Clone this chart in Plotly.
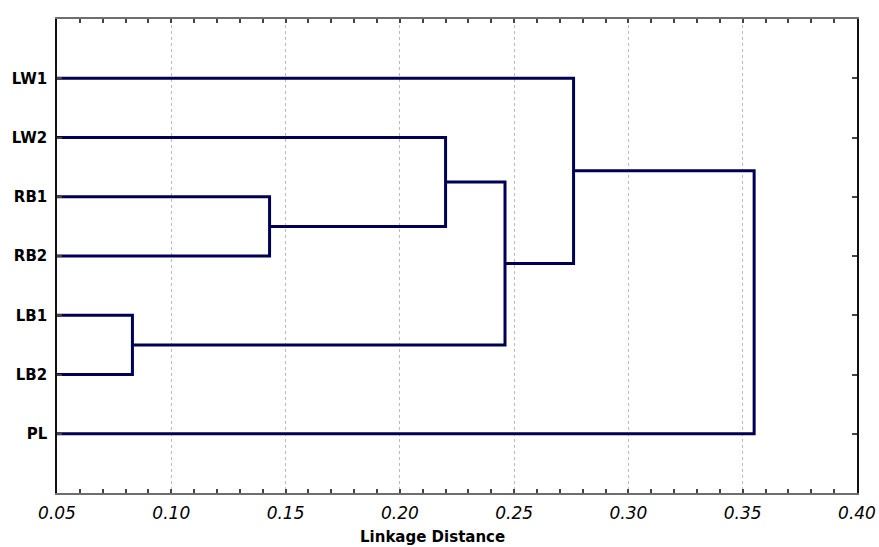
import plotly.graph_objects as go

# Leaves (top to bottom) and linkage merges
leaves = ["LW1", "LW2", "RB1", "RB2", "LB1", "LB2", "PL"]
merge_left = ["LB1", "RB1", "LW2", "N3", "LW1", "N5"]
merge_right = ["LB2", "RB2", "N2", "N1", "N4", "PL"]
merge_names = ["N1", "N2", "N3", "N4", "N5", "N6"]
merge_dist = [0.083, 0.143, 0.220, 0.246, 0.276, 0.355]
x_ticks = [0.05, 0.10, 0.15, 0.20, 0.25, 0.30, 0.35, 0.40]

pos = {name: (0.0, i) for i, name in enumerate(leaves)}
xs, ys = [], []
for a, b, d, n in zip(merge_left, merge_right, merge_dist, merge_names):
    xa, ya = pos[a]
    xb, yb = pos[b]
    xs += [xa, d, d, xb, None]
    ys += [ya, ya, yb, yb, None]
    pos[n] = (d, (ya + yb) / 2)

fig = go.Figure()
fig.add_trace(go.Scatter(x=xs, y=ys, mode="lines",
                         line=dict(color="#000055", width=3),
                         hoverinfo="skip", showlegend=False))

fig.update_layout(
    width=879, height=547,
    margin=dict(l=57, r=22, t=19, b=54),
    paper_bgcolor="white", plot_bgcolor="white",
    font=dict(family="DejaVu Sans", color="black"),
    xaxis=dict(range=[0.05, 0.40], tickvals=x_ticks,
               ticktext=[f"{v:.2f}" for v in x_ticks],
               tickfont=dict(size=17, family="DejaVu Sans", style="italic"),
               ticks="inside", ticklen=4, tickwidth=1.5, tickcolor="#444",
               ticklabelstandoff=4,
               showline=True, linecolor="#6e6e6e", linewidth=2,
               mirror="allticks", automargin=False,
               showgrid=True, gridcolor="#bbbbbb", griddash="dot", gridwidth=1,
               minor=dict(dtick=0.01, ticks="inside", ticklen=4, tickwidth=1.5,
                          tickcolor="#444", showgrid=False),
               zeroline=False),
    yaxis=dict(range=[7, -1], tickvals=list(range(len(leaves))), ticktext=leaves,
               tickfont=dict(size=15, family="DejaVu Sans", weight="bold"),
               ticks="inside", ticklen=5, tickwidth=1.5, tickcolor="#444",
               ticklabelstandoff=5,
               showline=True, linecolor="#111", linewidth=1.5, automargin=False,
               mirror="allticks", showgrid=False, zeroline=False),
    annotations=[dict(text="<b>Linkage Distance</b>", xref="paper", yref="paper",
                      x=(432 - 57) / 800, y=-(537 - 493) / 474, xanchor="center",
                      yanchor="middle", showarrow=False,
                      font=dict(size=15, family="DejaVu Sans", color="black"))],
)

fig.write_html("out.html", config={"displayModeBar": False},
               post_script="document.body.style.margin='0';document.body.style.padding='0';")
